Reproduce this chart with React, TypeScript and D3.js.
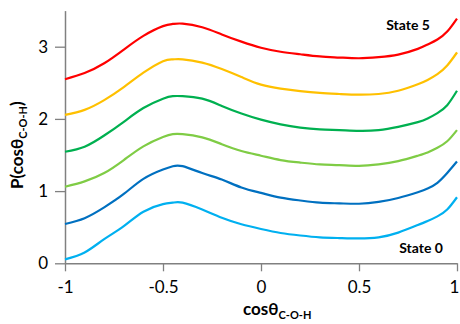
import React, { useEffect, useRef } from 'react';
import * as d3 from 'd3';

// cos(theta) grid shared by all states
const cosGrid = [-1, -0.9, -0.8, -0.7, -0.6, -0.5, -0.45, -0.4, -0.3, -0.2, -0.1, 0, 0.1, 0.2, 0.3, 0.4, 0.5, 0.6, 0.7, 0.8, 0.85, 0.9, 0.95, 1];

const state0 = [0.055, 0.15, 0.335, 0.515, 0.715, 0.82, 0.84, 0.84, 0.745, 0.63, 0.54, 0.475, 0.42, 0.385, 0.36, 0.35, 0.345, 0.36, 0.425, 0.53, 0.585, 0.65, 0.745, 0.915];
const state1 = [0.545, 0.625, 0.775, 0.96, 1.17, 1.3, 1.345, 1.345, 1.25, 1.16, 1.05, 0.975, 0.91, 0.87, 0.84, 0.83, 0.825, 0.85, 0.905, 0.985, 1.035, 1.115, 1.25, 1.41];
const state2 = [1.06, 1.135, 1.25, 1.43, 1.62, 1.75, 1.79, 1.79, 1.745, 1.65, 1.555, 1.49, 1.43, 1.395, 1.37, 1.36, 1.35, 1.37, 1.415, 1.49, 1.535, 1.6, 1.69, 1.845];
const state3 = [1.545, 1.615, 1.77, 1.96, 2.15, 2.28, 2.315, 2.315, 2.28, 2.18, 2.075, 1.99, 1.925, 1.88, 1.855, 1.845, 1.835, 1.845, 1.89, 1.955, 2.005, 2.08, 2.19, 2.39];
const state4 = [2.055, 2.125, 2.26, 2.44, 2.64, 2.8, 2.825, 2.825, 2.78, 2.69, 2.58, 2.475, 2.42, 2.385, 2.36, 2.345, 2.335, 2.345, 2.39, 2.48, 2.54, 2.62, 2.74, 2.92];
const state5 = [2.55, 2.635, 2.77, 2.96, 3.15, 3.285, 3.315, 3.32, 3.27, 3.17, 3.07, 2.985, 2.93, 2.895, 2.865, 2.85, 2.84, 2.855, 2.89, 2.97, 3.03, 3.1, 3.21, 3.39];

const seriesList = [state0, state1, state2, state3, state4, state5];
const seriesColors = ['#00b0f0', '#0070c0', '#7fcc45', '#00b050', '#ffc000', '#ff0000'];

const xTicks = [-1, -0.5, 0, 0.5, 1];
const yTicks = [0, 1, 2, 3];

const FONT = 'Lato, "Open Sans", sans-serif';

const App: React.FC = () => {
  const svgRef = useRef<SVGSVGElement>(null);

  useEffect(() => {
    if (!svgRef.current) return;
    const svg = d3.select(svgRef.current);
    svg.selectAll('*').remove();

    const x = d3.scaleLinear().domain([-1, 1]).range([65, 457]);
    const y = d3.scaleLinear().domain([0, 3.5]).range([263.3, 10.6]);

    // X axis
    const xAxis = svg
      .append('g')
      .attr('transform', `translate(0,${y(0)})`)
      .call(
        d3.axisBottom(x)
          .tickValues(xTicks)
          .tickSize(8)
          .tickSizeOuter(0)
          .tickFormat(d => String(d))
      );
    xAxis.select('.domain').attr('stroke', '#808080').attr('stroke-width', 1.5);
    xAxis.selectAll('.tick line').attr('stroke', '#808080').attr('stroke-width', 1.3);
    xAxis
      .selectAll('.tick text')
      .attr('font-family', FONT)
      .attr('font-size', '17px')
      .attr('fill', '#000')
      .attr('dy', 0)
      .attr('y', 30)
      .attr('x', (d: any) => (d === 1 ? -3 : 0));

    // Y axis
    const yAxis = svg
      .append('g')
      .attr('transform', `translate(${x(-1)},0)`)
      .call(
        d3.axisLeft(y)
          .tickValues(yTicks)
          .tickSize(10)
          .tickSizeOuter(0)
          .tickFormat(d => String(d))
      );
    yAxis.select('.domain').attr('stroke', '#808080').attr('stroke-width', 1.5);
    yAxis.selectAll('.tick line').attr('stroke', '#808080').attr('stroke-width', 1.3);
    yAxis
      .selectAll('.tick text')
      .attr('font-family', FONT)
      .attr('font-size', '17px')
      .attr('fill', '#000')
      .attr('x', -17);

    // Curves
    const line = d3
      .line<number>()
      .x((d, i) => x(cosGrid[i]))
      .y(d => y(d))
      .curve(d3.curveNatural);

    seriesList.forEach((values, i) => {
      svg
        .append('path')
        .datum(values)
        .attr('fill', 'none')
        .attr('stroke', seriesColors[i])
        .attr('stroke-width', 2.2)
        .attr('stroke-linejoin', 'round')
        .attr('d', line);
    });

    // State labels
    svg
      .append('text')
      .attr('x', 430)
      .attr('y', 30)
      .attr('text-anchor', 'end')
      .attr('font-family', FONT)
      .attr('font-weight', 'bold')
      .attr('font-size', '14px')
      .text('State 5');
    svg
      .append('text')
      .attr('x', 443)
      .attr('y', 253)
      .attr('text-anchor', 'end')
      .attr('font-family', FONT)
      .attr('font-weight', 'bold')
      .attr('font-size', '14px')
      .text('State 0');

    // X axis title
    const xt = svg
      .append('text')
      .attr('x', 243)
      .attr('y', 315)
      .attr('font-family', FONT)
      .attr('font-weight', 'bold')
      .attr('font-size', '17px');
    xt.append('tspan').text('cosθ');
    xt.append('tspan').attr('font-size', '11px').attr('dy', 4).text('C-O-H');

    // Y axis title
    const yt = svg
      .append('text')
      .attr('transform', 'translate(23,189) rotate(-90)')
      .attr('font-family', FONT)
      .attr('font-weight', 'bold')
      .attr('font-size', '17px');
    yt.append('tspan').text('P(cosθ');
    yt.append('tspan').attr('font-size', '11px').attr('dy', 4).text('C-O-H');
    yt.append('tspan').attr('dy', -4).text(')');
  }, []);

  return (
    <div style={{ position: 'fixed', left: 0, top: 0, width: 460, height: 324, background: '#fff' }}>
      <svg ref={svgRef} width={460} height={324}></svg>
    </div>
  );
};

export default App;
